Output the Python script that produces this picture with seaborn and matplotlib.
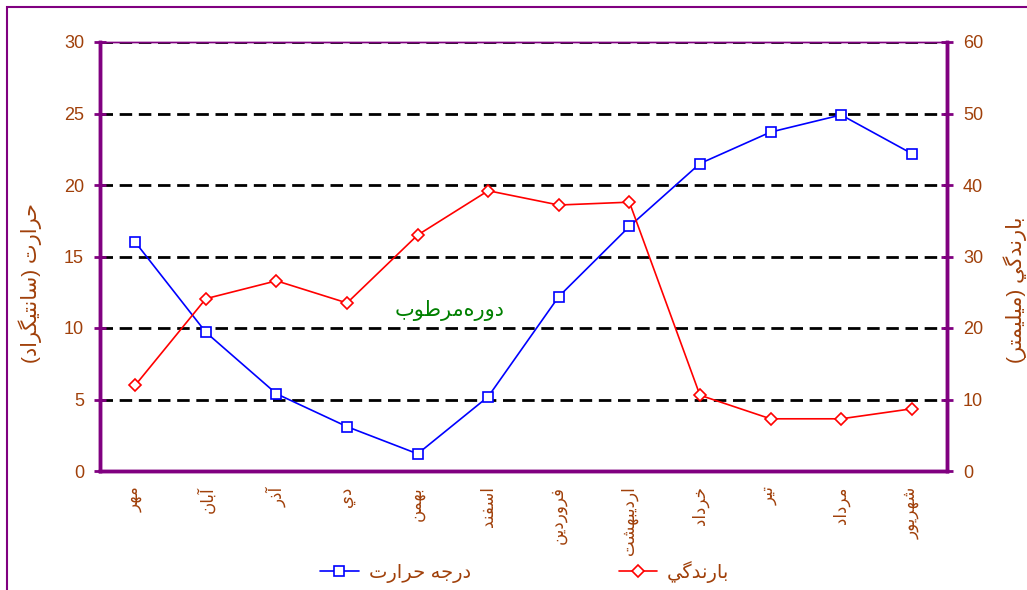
import matplotlib
matplotlib.use("Agg")
import matplotlib.pyplot as plt
import seaborn as sns
import pandas as pd
from matplotlib.patches import Rectangle

# data
months = ["مهر", "آبان", "آذر", "دي", "بهمن", "اسفند", "فروردين",
          "ارديبهشت", "خرداد", "تير", "مرداد", "شهريور"]
temperature = [16.0, 9.7, 5.4, 3.1, 1.2, 5.2, 12.2, 17.1, 21.5, 23.7, 24.9, 22.2]
rainfall = [12.0, 24.1, 26.6, 23.5, 33.0, 39.2, 37.2, 37.6, 10.6, 7.3, 7.3, 8.7]
temp_ticks = [0, 5, 10, 15, 20, 25, 30]
rain_ticks = [0, 10, 20, 30, 40, 50, 60]

temp_label = "درجه حرارت"
rain_label = "بارندگي"
left_title = "حرارت (سانتيگراد)"
right_title = "بارندگي (ميليمتر)"
note = "دوره\u200cمرطوب"

# simple arabic shaping: matplotlib has no bidi / joining support
FORMS = {
    'ا': (0xFE8D, 0xFE8E, None, None), 'آ': (0xFE81, 0xFE82, None, None),
    'ب': (0xFE8F, 0xFE90, 0xFE91, 0xFE92), 'ت': (0xFE95, 0xFE96, 0xFE97, 0xFE98),
    'ج': (0xFE9D, 0xFE9E, 0xFE9F, 0xFEA0), 'ح': (0xFEA1, 0xFEA2, 0xFEA3, 0xFEA4),
    'خ': (0xFEA5, 0xFEA6, 0xFEA7, 0xFEA8), 'د': (0xFEA9, 0xFEAA, None, None),
    'ذ': (0xFEAB, 0xFEAC, None, None), 'ر': (0xFEAD, 0xFEAE, None, None),
    'س': (0xFEB1, 0xFEB2, 0xFEB3, 0xFEB4), 'ش': (0xFEB5, 0xFEB6, 0xFEB7, 0xFEB8),
    'ط': (0xFEC1, 0xFEC2, 0xFEC3, 0xFEC4), 'ف': (0xFED1, 0xFED2, 0xFED3, 0xFED4),
    'ل': (0xFEDD, 0xFEDE, 0xFEDF, 0xFEE0), 'م': (0xFEE1, 0xFEE2, 0xFEE3, 0xFEE4),
    'ن': (0xFEE5, 0xFEE6, 0xFEE7, 0xFEE8), 'ه': (0xFEE9, 0xFEEA, 0xFEEB, 0xFEEC),
    'و': (0xFEED, 0xFEEE, None, None), 'ي': (0xFEF1, 0xFEF2, 0xFEF3, 0xFEF4),
    'گ': (0xFB92, 0xFB93, 0xFB94, 0xFB95),
}


def fa(text):
    out = []
    for i, ch in enumerate(text):
        if ch not in FORMS:
            if ch != '\u200c':
                out.append(ch)
            continue
        iso, fin, ini, med = FORMS[ch]
        prev = i > 0 and text[i - 1] in FORMS and FORMS[text[i - 1]][2] is not None
        nxt = ini is not None and i + 1 < len(text) and text[i + 1] in FORMS
        if prev and nxt:
            code = med
        elif prev:
            code = fin
        elif nxt:
            code = ini
        else:
            code = iso
        out.append(chr(code))
    s = "".join(reversed(out))
    return s.translate(str.maketrans("()", ")("))


sns.set_style("white")
plt.rcParams['font.family'] = ['Liberation Sans', 'DejaVu Sans']

brown = "#A0400A"
purple = "#800080"

df = pd.DataFrame({"pos": range(len(months)), "temp": temperature, "rain": rainfall})

fig = plt.figure(figsize=(10.27, 5.90), dpi=100)
ax = fig.add_axes([100 / 1027, 119 / 590, 847 / 1027, 429 / 590])
ax2 = ax.twinx()

sns.lineplot(data=df, x="pos", y="temp", ax=ax, color="#0000FF", lw=1.2,
             marker="s", markersize=7, markerfacecolor="white",
             markeredgecolor="#0000FF", markeredgewidth=1.2, label=fa(temp_label), legend=False)
sns.lineplot(data=df, x="pos", y="rain", ax=ax2, color="#FF0000", lw=1.2,
             marker="D", markersize=6, markerfacecolor="white",
             markeredgecolor="#FF0000", markeredgewidth=1.2, label=fa(rain_label), legend=False)

ax.set_xlim(-0.5, len(months) - 0.5)
ax.set_ylim(0, 30)
ax2.set_ylim(0, 60)
ax.set_yticks(temp_ticks)
ax2.set_yticks(rain_ticks)

for t in temp_ticks[1:]:
    ax.axhline(t, color="black", lw=2, ls=(0, (4.5, 2.4)), zorder=0)

# category boundaries as ticks, names centred between them
ax.set_xticks([i - 0.5 for i in range(len(months) + 1)])
ax.set_xticklabels([])
ax.set_xticks(range(len(months)), minor=True)
ax.set_xticklabels([fa(m) for m in months], minor=True, rotation=90,
                   color=brown, fontsize=12, va="top")
ax.tick_params(axis="x", which="major", direction="out", length=7, width=2, color=purple)
ax.tick_params(axis="x", which="minor", length=0, pad=11)
ax.tick_params(axis="y", direction="inout", length=9, width=2, color=purple,
               labelcolor=brown, labelsize=13, pad=7)
ax2.tick_params(axis="y", direction="inout", length=9, width=2, color=purple,
                labelcolor=brown, labelsize=13, pad=7)
ax.set_xlabel("")
ax.set_ylabel("")
ax2.set_ylabel("")

for a in (ax, ax2):
    for side in ("left", "right", "bottom"):
        a.spines[side].set_color(purple)
        a.spines[side].set_linewidth(2.5)
    a.spines["top"].set_color(purple)
    a.spines["top"].set_linewidth(1)

ax.text(4.45, 11.2, fa(note), color="#008000", fontsize=15, ha="center", va="center")

fig.text(30 / 1027, 1 - 283 / 590, fa(left_title), rotation=90, color=brown,
         fontsize=15, ha="center", va="center")
fig.text(1015 / 1027, 1 - 290 / 590, fa(right_title), rotation=90, color=brown,
         fontsize=15, ha="center", va="center")

h1, l1 = ax.get_legend_handles_labels()
h2, l2 = ax2.get_legend_handles_labels()
leg = fig.legend(h1 + h2, l1 + l2, loc="center", bbox_to_anchor=(0.511, 0.03), ncol=2,
                 frameon=False, fontsize=14, handlelength=2.0, columnspacing=7.6,
                 handletextpad=0.5)
for t in leg.get_texts():
    t.set_color(brown)

fig.add_artist(Rectangle((7 / 1027, -0.1), 1.2, 1.1 - 7 / 590, transform=fig.transFigure,
                         fill=False, edgecolor=purple, lw=1.5, clip_on=False))

fig.savefig("out.png", dpi=100)
